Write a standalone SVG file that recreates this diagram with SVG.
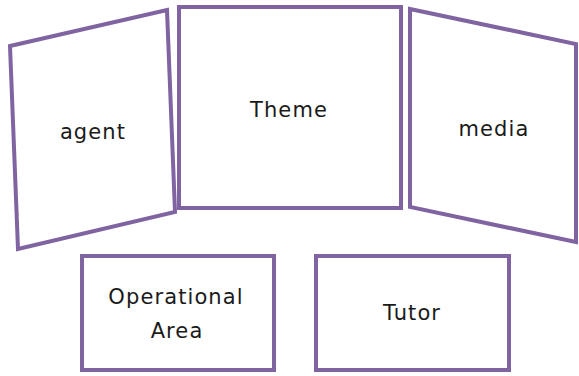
<svg xmlns="http://www.w3.org/2000/svg" width="579" height="376" viewBox="0 0 579 376">
<style>
.s{fill:#fff;stroke:#8064a2;stroke-width:4;stroke-linejoin:miter}
.t{font-family:"DejaVu Sans",sans-serif;font-size:21px;fill:#1a1a1a;text-anchor:middle;letter-spacing:1.1px}
</style>
<rect width="579" height="376" fill="#fff"/>
<g id="connectors"/>
<g id="agent"><polygon class="s" points="10,46 167,10 175,212 18,249"/><text class="t" x="93" y="139">agent</text></g>
<g id="theme"><rect class="s" x="179" y="7" width="222" height="201"/><text class="t" x="289" y="117">Theme</text></g>
<g id="media"><polygon class="s" points="410,9 576,44 576,242 410,207"/><text class="t" x="494" y="136">media</text></g>
<g id="operational"><rect class="s" x="82" y="256" width="192" height="114"/><text class="t" x="176" y="304">Operational</text><text class="t" x="177" y="338">Area</text></g>
<g id="tutor"><rect class="s" x="316" y="256" width="193" height="114"/><text class="t" x="412" y="320">Tutor</text></g>
</svg>
